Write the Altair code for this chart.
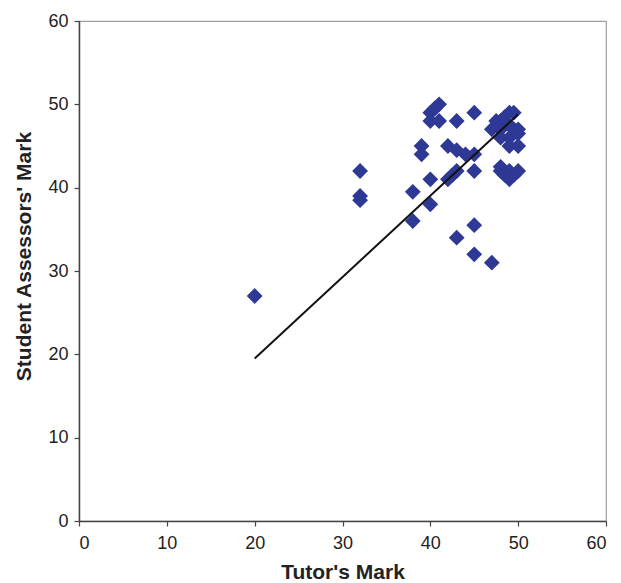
import altair as alt
import pandas as pd

# Tutor's mark (x) and student assessors' mark (y)
tutor = [20, 32, 32, 32, 38, 38, 39, 39, 40, 40, 40, 40, 41, 41, 40.5,
         42, 42, 43, 43, 43, 43, 44, 45, 45, 45, 45, 45, 47, 47, 47.5,
         48, 48, 48, 48, 48, 48.5, 49, 49.5, 49, 49, 49, 49, 49, 50,
         50, 50, 50, 49.5, 42.5, 48.5, 49.5]
student = [27, 42, 39, 38.5, 39.5, 36, 45, 44, 49, 48, 41, 38, 50, 48, 49.5,
           45, 41, 48, 44.5, 42, 34, 44, 49, 44, 42, 35.5, 32, 47, 31, 48,
           48, 47, 46, 42.5, 42, 41.5, 49, 49, 47.5, 46, 45, 42, 41, 47,
           46.5, 45, 42, 41.5, 41.5, 48.5, 47]

# Trend line end points
trend_x = [20, 50]
trend_y = [19.5, 48.8]

pts = pd.DataFrame({"tutor": tutor, "student": student})
trend = pd.DataFrame({"tutor": trend_x, "student": trend_y})

font = "Liberation Sans"

xscale = alt.Scale(domain=[0, 60], nice=False, zero=False)
yscale = alt.Scale(domain=[0, 60], nice=False, zero=False)

xaxis = alt.Axis(title="Tutor's Mark", values=[0, 10, 20, 30, 40, 50, 60],
                 grid=False, domainColor="#444444", domainWidth=1.5,
                 tickColor="#444444", tickSize=5, tickWidth=1.2,
                 labelFont=font, labelFontSize=18, labelColor="#222222",
                 labelPadding=8, titleFont=font, titleFontSize=21,
                 titleFontWeight="bold", titleColor="#222222", titlePadding=9)
yaxis = alt.Axis(title="Student Assessors' Mark", values=[0, 10, 20, 30, 40, 50, 60],
                 grid=False, domainColor="#444444", domainWidth=1.5,
                 tickColor="#444444", tickSize=5, tickWidth=1.2,
                 labelFont=font, labelFontSize=18, labelColor="#222222",
                 labelPadding=6, titleFont=font, titleFontSize=21,
                 titleFontWeight="bold", titleColor="#222222", titlePadding=13,
                 titleY=235)

points = alt.Chart(pts).mark_point(
    shape="diamond", filled=True, size=250, color="#2E3895", opacity=1
).encode(
    x=alt.X("tutor:Q", scale=xscale, axis=xaxis),
    y=alt.Y("student:Q", scale=yscale, axis=yaxis),
)

line = alt.Chart(trend).mark_line(color="#111111", strokeWidth=2).encode(
    x=alt.X("tutor:Q", scale=xscale),
    y=alt.Y("student:Q", scale=yscale),
)

chart = (points + line).properties(
    width=527, height=500,
    autosize=alt.AutoSizeParams(type="none"),
    padding={"left": 79, "top": 21, "right": 15, "bottom": 62},
    background="white",
).configure_view(stroke="#A0A0A0", strokeWidth=1.2)

chart.save("out.html", embed_options={"renderer": "svg", "actions": False})
